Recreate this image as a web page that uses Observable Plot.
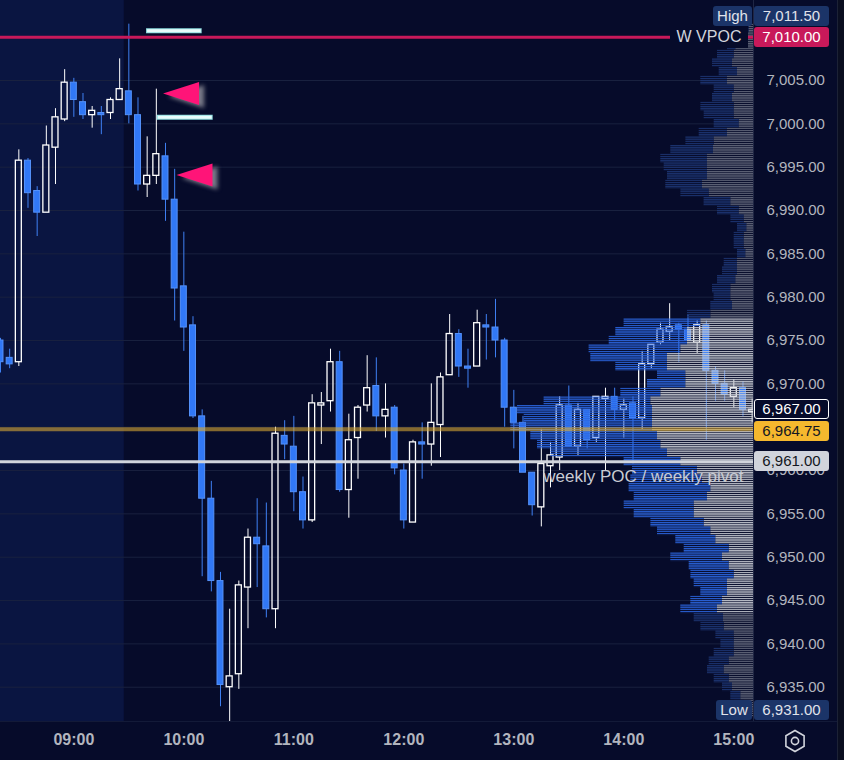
<!DOCTYPE html>
<html>
<head>
<meta charset="utf-8">
<script src="https://cdn.jsdelivr.net/npm/d3@7"></script>
<script src="https://cdn.jsdelivr.net/npm/@observablehq/plot@0.6"></script>
<style>
html, body { margin: 0; padding: 0; background: #060b2a; }
#chart { position: relative; width: 844px; height: 760px; overflow: hidden; background: #060b2a; font-family: "Liberation Sans", Arial, sans-serif; }
#chart > svg { position: absolute; left: 0; top: 0; }
.abs { position: absolute; box-sizing: border-box; }
.badge { position: absolute; box-sizing: border-box; height: 20px; line-height: 20px; font-size: 15px; text-align: center; border-radius: 3px; white-space: nowrap; }
</style>
</head>
<body>
<svg width="0" height="0" style="position:absolute">
  <defs>
    <pattern id="pbb" patternUnits="userSpaceOnUse" x="0" y="2" width="10" height="2.1667"><rect x="0" y="0" width="10" height="1.3" fill="#2b67e3"/></pattern>
    <pattern id="pgb" patternUnits="userSpaceOnUse" x="0" y="2" width="10" height="2.1667"><rect x="0" y="0" width="10" height="1.3" fill="#c9ccd4"/></pattern>
    <pattern id="pbd" patternUnits="userSpaceOnUse" x="0" y="2" width="10" height="2.1667"><rect x="0" y="0" width="10" height="1.3" fill="#1b326e"/></pattern>
    <pattern id="pgd" patternUnits="userSpaceOnUse" x="0" y="2" width="10" height="2.1667"><rect x="0" y="0" width="10" height="1.3" fill="#5d6276"/></pattern>
  </defs>
</svg>
<div id="chart"></div>
<script>
// ---------------- DATA ----------------
const times = ["08:20","08:25","08:30","08:35","08:40","08:45","08:50","08:55",
  "09:00","09:05","09:10","09:15","09:20","09:25","09:30","09:35","09:40","09:45","09:50","09:55",
  "10:00","10:05","10:10","10:15","10:20","10:25","10:30","10:35","10:40","10:45","10:50","10:55",
  "11:00","11:05","11:10","11:15","11:20","11:25","11:30","11:35","11:40","11:45","11:50","11:55",
  "12:00","12:05","12:10","12:15","12:20","12:25","12:30","12:35","12:40","12:45","12:50","12:55",
  "13:00","13:05","13:10","13:15","13:20","13:25","13:30","13:35","13:40","13:45","13:50","13:55",
  "14:00","14:05","14:10","14:15","14:20","14:25","14:30","14:35","14:40","14:45","14:50","14:55",
  "15:00","15:05","15:10"];
const opens = [6975.0,6973.0,6972.5,6995.75,6992.25,6989.75,6997.25,7000.5,
  7004.75,7002.5,7001.0,7001.25,7001.25,7002.75,7003.75,7001.0,6993.0,6994.0,6996.25,6991.25,
  6981.25,6976.75,6966.25,6956.75,6947.25,6935.0,6936.5,6946.5,6952.25,6951.25,6944.0,6964.0,
  6962.75,6957.5,6954.25,6967.5,6968.0,6972.5,6957.75,6963.75,6967.5,6969.75,6966.25,6967.25,
  6960.0,6954.0,6963.25,6963.0,6965.25,6971.0,6975.75,6972.0,6972.0,6976.75,6976.5,6975.0,
  6967.25,6965.5,6959.75,6955.75,6960.5,6961.5,6967.5,6962.75,6967.0,6963.75,6968.25,6968.5,
  6967.0,6967.75,6966.0,6972.25,6974.75,6976.0,6976.75,6976.25,6974.75,6976.75,6971.5,6970.0,
  6968.5,6969.5,6966.75];
const highs = [6975.25,6974.0,6997.0,6996.0,6992.75,6999.75,7001.75,7006.25,
  7005.25,7003.5,7002.0,7002.0,7003.0,7007.5,7011.5,7003.0,6998.5,7004.0,6997.75,6994.75,
  6987.5,6977.75,6967.0,6958.75,6948.25,6944.0,6947.25,6953.25,6956.75,6956.25,6965.0,6965.75,
  6966.25,6959.25,6968.75,6969.0,6974.0,6973.75,6966.5,6967.5,6973.25,6973.0,6970.0,6967.5,
  6960.75,6963.5,6965.5,6970.0,6971.25,6978.0,6976.25,6974.0,6978.5,6978.0,6979.75,6975.25,
  6969.25,6966.25,6959.75,6964.75,6963.25,6968.5,6969.75,6967.75,6967.0,6968.5,6969.5,6969.5,
  6968.25,6968.5,6973.75,6974.5,6977.0,6979.25,6977.0,6978.0,6977.25,6977.25,6972.0,6971.5,
  6970.5,6970.25,6968.25];
const lows = [6971.25,6971.75,6972.0,6990.25,6987.0,6989.75,6993.0,7000.25,
  7000.75,7000.5,6999.5,6998.75,7000.5,7002.75,7000.0,6992.25,6991.5,6993.0,6988.75,6977.25,
  6973.75,6966.0,6947.75,6946.0,6932.75,6931.0,6934.75,6941.75,6946.5,6943.0,6941.75,6961.25,
  6955.25,6953.25,6954.0,6963.0,6966.75,6957.5,6954.5,6959.0,6966.75,6964.5,6963.75,6959.5,
  6953.25,6954.0,6959.0,6960.5,6961.5,6971.0,6970.75,6969.5,6972.0,6972.75,6973.0,6965.0,
  6962.5,6959.75,6954.75,6953.5,6958.0,6960.0,6962.75,6961.75,6962.5,6963.25,6960.0,6965.75,
  6963.75,6960.75,6964.75,6971.75,6974.5,6975.0,6972.5,6975.0,6973.5,6963.5,6968.0,6968.0,
  6967.25,6966.25,6965.5];
const closes = [6972.5,6972.25,6995.75,6992.0,6989.75,6997.5,7000.75,7004.75,
  7002.75,7001.0,7001.5,7001.0,7002.75,7004.0,7001.0,6993.0,6994.0,6996.5,6991.25,6981.0,
  6976.5,6966.25,6956.75,6947.25,6935.25,6936.25,6946.75,6952.25,6951.5,6944.0,6964.25,6963.0,
  6957.5,6954.25,6967.75,6967.75,6972.5,6957.75,6963.5,6967.25,6969.5,6966.25,6967.0,6960.25,
  6954.25,6963.25,6963.0,6965.5,6970.75,6975.75,6972.0,6971.75,6977.0,6976.5,6975.0,6967.25,
  6965.5,6959.75,6956.0,6960.75,6961.75,6967.5,6962.75,6967.0,6963.5,6968.5,6968.5,6967.0,
  6967.5,6966.0,6972.25,6974.5,6976.25,6976.5,6976.25,6975.0,6976.75,6971.5,6970.0,6968.75,
  6969.5,6967.0,6967.0];
const barMinutes = 5;

// Volume profile (1-point rows): blue part and gray part
const profPrices = [7011,7010,7009,7008,7007,7006,7005,7004,7003,7002,7001,7000,
  6999,6998,6997,6996,6995,6994,6993,6992,6991,6990,6989,6988,6987,6986,6985,6984,6983,6982,6981,6980,
  6979,6978,6977,6976,6975,6974,6973,6972,6971,6970,6969,6968,6967,6966,6965,6964,6963,6962,6961,6960,
  6959,6958,6957,6956,6955,6954,6953,6952,6951,6950,6949,6948,6947,6946,6945,6944,6943,6942,6941,6940,
  6939,6938,6937,6936,6935,6934,6933,6932];
const profBlue = [23,67,83,167,200,183,267,200,200,333,300,250,
  283,283,427,467,433,400,367,283,267,217,133,93,100,100,83,133,150,183,183,167,
  217,233,767,717,783,917,767,517,283,383,400,1067,1350,1283,1417,1267,1233,1167,567,650,
  717,817,733,700,600,533,533,400,450,517,400,433,333,267,317,367,293,233,183,133,
  200,200,167,150,100,100,93,67];
const profGray = [43,60,177,193,210,160,260,193,210,193,193,143,
  260,393,400,460,460,460,510,443,227,143,93,67,93,93,77,160,160,177,227,227,
  210,427,527,660,660,727,860,860,677,677,927,1027,1010,1010,1010,960,927,860,727,560,
  510,427,460,593,593,493,427,377,243,310,243,193,260,260,310,360,300,293,193,193,
  193,243,293,243,210,127,93,60];
const profRow = 1;
const valueAreaHigh = 6977.75, valueAreaLow = 6943.5;

const priceTicks = [6935,6940,6945,6950,6955,6960,6965,6970,6975,6980,6985,6990,6995,7000,7005,7010];
const priceLabels = [6935,6940,6945,6950,6955,6960,6970,6975,6980,6985,6990,6995,7000,7005];
const timeTicks = ["09:00","10:00","11:00","12:00","13:00","14:00","15:00"];
const viewStart = "08:20", viewEnd = "15:10:44";
const priceMin = 6930.93, priceMax = 7014.23;
const sessionSplit = "09:27:30";

const wVpoc = 7010.00;
const weeklyPoc = 6961.00;
const goldLevel = 6964.75;
const lastPrice = 6967.00;
const dayHigh = 7011.50, dayLow = 6931.00;
const ibLines = [{start: "09:39:40", end: "10:10", price: 7010.75}, {start: "09:45:30", end: "10:16", price: 7000.75}];
const markers = [{time: "09:48:40", price: 7003.5}, {time: "09:56", price: 6994.1}];
const pocLabel = "weekly POC / weekly pivot";
const vpocLabel = "W VPOC";

// ---------------- BUILD ----------------
const FONT = '"Liberation Sans", Arial, sans-serif';
const T = s => { const [h, m, sec] = s.split(":").map(Number); return new Date(Date.UTC(2024, 0, 2, h, m, sec || 0)); };
const half = barMinutes * 60000 / 2;
const candles = times.map((t, i) => ({t: T(t), open: opens[i], high: highs[i], low: lows[i], close: closes[i], up: closes[i] >= opens[i]}));
const upC = candles.filter(d => d.up), dnC = candles.filter(d => !d.up);
const prof = profPrices.map((p, i) => ({price: p, blue: profBlue[i], gray: profGray[i], va: p <= valueAreaHigh && p >= valueAreaLow}));

const xDomain = [T(viewStart), T(viewEnd)];
const yDomain = [priceMin, priceMax];
const frame = {width: 844, height: 760, marginTop: 0, marginRight: 91, marginBottom: 38, marginLeft: 0};

const bx1 = d => new Date(+d.t - half), bx2 = d => new Date(+d.t + half);
const bodyTop = d => Math.max(d.open, d.close), bodyBot = d => Math.min(d.open, d.close);

const main = Plot.plot({
  ...frame,
  style: {background: "transparent", color: "#b2b5be", fontFamily: FONT, overflow: "hidden"},
  x: {type: "utc", domain: xDomain},
  y: {domain: yDomain},
  marks: [
    Plot.rect([sessionSplit], {x1: () => T(viewStart), x2: d => T(d), fill: "#0a1541"}),
    Plot.gridY(priceTicks, {stroke: "#19213f", strokeOpacity: 1}),
    Plot.ruleX(upC, {x: "t", y1: "high", y2: bodyTop, stroke: "#ffffff", strokeWidth: 1}),
    Plot.ruleX(upC, {x: "t", y1: bodyBot, y2: "low", stroke: "#ffffff", strokeWidth: 1}),
    Plot.ruleX(dnC, {x: "t", y1: "high", y2: bodyTop, stroke: "#3f80f4", strokeWidth: 1}),
    Plot.ruleX(dnC, {x: "t", y1: bodyBot, y2: "low", stroke: "#3f80f4", strokeWidth: 1}),
    Plot.rect(dnC, {x1: bx1, x2: bx2, y1: "open", y2: "close", insetLeft: 1.6, insetRight: 1.6, fill: "#3178f6", stroke: "#5592fa", strokeWidth: 1}),
    Plot.rect(upC, {x1: bx1, x2: bx2, y1: "open", y2: "close", insetLeft: 1.6, insetRight: 1.6, fill: "none", stroke: "#ffffff", strokeWidth: 1.3}),
    Plot.axisY(priceLabels, {anchor: "right", tickSize: 0, tickPadding: 13, tickFormat: d3.format(",.2f"), fontSize: 15, label: null}),
    Plot.axisX(timeTicks.map(T), {anchor: "bottom", tickSize: 0, tickPadding: 11, tickFormat: d3.utcFormat("%H:%M"), fontSize: 16, fontWeight: "bold", label: null})
  ]
});

const profile = Plot.plot({
  ...frame,
  style: {background: "transparent", overflow: "hidden"},
  x: {domain: [0, 2500], range: [753, 503], axis: null},
  y: {domain: yDomain, axis: null},
  marks: [
    Plot.rect(prof, {filter: d => !d.va, x1: 0, x2: "gray", y1: d => d.price - profRow / 2, y2: d => d.price + profRow / 2, fill: "url(#pgd)"}),
    Plot.rect(prof, {filter: d => !d.va, x1: "gray", x2: d => d.gray + d.blue, y1: d => d.price - profRow / 2, y2: d => d.price + profRow / 2, fill: "url(#pbd)"}),
    Plot.rect(prof, {filter: d => d.va, x1: 0, x2: "gray", y1: d => d.price - profRow / 2, y2: d => d.price + profRow / 2, fill: "url(#pgb)", fillOpacity: 0.92}),
    Plot.rect(prof, {filter: d => d.va, x1: "gray", x2: d => d.gray + d.blue, y1: d => d.price - profRow / 2, y2: d => d.price + profRow / 2, fill: "url(#pbb)", fillOpacity: 0.92})
  ]
});

const leftTriangle = {draw(ctx) { ctx.moveTo(0, 0); ctx.lineTo(36, -11.5); ctx.lineTo(36, 11.5); ctx.closePath(); }};

const overlay = Plot.plot({
  ...frame,
  style: {background: "transparent", overflow: "visible", fontFamily: FONT},
  x: {type: "utc", domain: xDomain, axis: null},
  y: {domain: yDomain, axis: null},
  marks: [
    Plot.ruleY([goldLevel], {stroke: "#d9a934", strokeOpacity: 0.6, strokeWidth: 4}),
    Plot.ruleY([weeklyPoc], {stroke: "#d1d4dc", strokeWidth: 3}),
    Plot.ruleY([wVpoc], {stroke: "#c8195a", strokeWidth: 3}),
    Plot.ruleY(ibLines, {y: "price", x1: d => T(d.start), x2: d => T(d.end), stroke: "#8fdfe0", strokeWidth: 5}),
    Plot.ruleY(ibLines, {y: "price", x1: d => T(d.start), x2: d => T(d.end), stroke: "#e8fcfc", strokeWidth: 3, insetLeft: 1, insetRight: 1}),
    Plot.dot(markers, {x: d => T(d.time), y: "price", symbol: leftTriangle, fill: "#ff1478"}),
    Plot.text([weeklyPoc], {y: d => d, frameAnchor: "right", dx: -10, dy: 15, text: () => pocLabel, textAnchor: "end", fontSize: 17, fill: "#c9ccd4"})
  ]
});
const dots = overlay.querySelector('g[aria-label="dot"]');
if (dots) dots.style.filter = "drop-shadow(5px 3px 2px rgba(150,150,160,0.8))";

const chart = document.getElementById("chart");
chart.append(main, profile, overlay);

const ys = main.scale("y");
const Y = v => ys.apply(v);

function div(cls, css, text) {
  const e = document.createElement("div");
  e.className = cls;
  Object.assign(e.style, css);
  if (text != null) e.textContent = text;
  chart.appendChild(e);
  return e;
}

// separators
div("abs", {left: "753px", top: "0px", width: "1px", height: "722px", background: "#1f2644"});
div("abs", {left: "0px", top: "721px", width: "844px", height: "1px", background: "#131a38"});
div("abs", {left: "837px", top: "0px", width: "7px", height: "760px", background: "#0a0e20", borderLeft: "1px solid #1c2236"});

// W VPOC label on the red line
div("abs", {left: "670px", top: (Y(wVpoc) - 11) + "px", width: "78px", height: "22px", lineHeight: "22px", background: "#060b2a", color: "#d1d4dc", fontSize: "16px", textAlign: "center"}, vpocLabel);

// badges
const fmt = d3.format(",.2f");
const redTop = Y(wVpoc) - 10;
div("badge", {left: "754px", top: redTop + "px", width: "75px", background: "#c8195a", color: "#ffffff"}, fmt(wVpoc));
div("badge", {left: "754px", top: (redTop - 21) + "px", width: "75px", background: "#1b3468", color: "#e0e3eb"}, fmt(dayHigh));
div("badge", {left: "713px", top: (redTop - 21) + "px", width: "39px", background: "#1b3468", color: "#e0e3eb"}, "High");

const lowTop = Math.min(Y(dayLow) - 10, 700);
div("badge", {left: "754px", top: lowTop + "px", width: "75px", background: "#1b3468", color: "#e0e3eb"}, fmt(dayLow));
div("badge", {left: "716px", top: lowTop + "px", width: "36px", background: "#1b3468", color: "#e0e3eb"}, "Low");

let prevTop = -100;
[[lastPrice, {background: "#060b2a", color: "#ffffff", border: "1.5px solid #ffffff", lineHeight: "17px"}],
 [goldLevel, {background: "#f5b82e", color: "#131722"}],
 [weeklyPoc, {background: "#d1d4dc", color: "#131722"}]].forEach(([v, css]) => {
  const t = Math.max(Y(v) - 10, prevTop + 21.5);
  prevTop = t;
  div("badge", Object.assign({left: "754px", top: t + "px", width: "75px"}, css), fmt(v));
});

// settings icon
const icon = document.createElementNS("http://www.w3.org/2000/svg", "svg");
icon.setAttribute("width", "26"); icon.setAttribute("height", "26");
Object.assign(icon.style, {position: "absolute", left: "782px", top: "728px"});
const hex = d3.range(6).map(k => { const a = Math.PI / 3 * k - Math.PI / 2; return [13 + 10.5 * Math.cos(a), 13 + 10.5 * Math.sin(a)]; });
icon.innerHTML = `<path d="M${hex.map(p => p.join(",")).join("L")}Z" fill="none" stroke="#d1d4dc" stroke-width="1.6"/><circle cx="13" cy="13" r="3.6" fill="none" stroke="#d1d4dc" stroke-width="1.6"/>`;
chart.appendChild(icon);
</script>
</body>
</html>
